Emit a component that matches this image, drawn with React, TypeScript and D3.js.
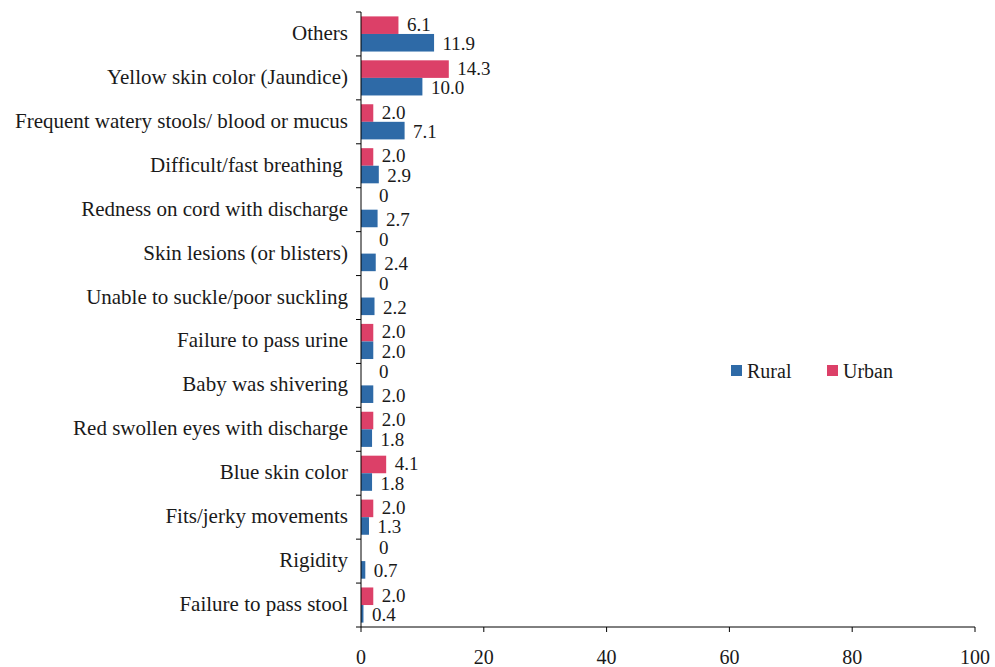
import React from "react";
import * as d3 from "d3";

const categories = [
  "Others",
  "Yellow skin color (Jaundice)",
  "Frequent watery stools/ blood or mucus",
  "Difficult/fast breathing\u00a0",
  "Redness on cord with discharge",
  "Skin lesions (or blisters)",
  "Unable to suckle/poor suckling",
  "Failure to pass urine",
  "Baby was shivering",
  "Red swollen eyes with discharge",
  "Blue skin color",
  "Fits/jerky movements",
  "Rigidity",
  "Failure to pass stool",
];
const urban = [6.1, 14.3, 2.0, 2.0, 0, 0, 0, 2.0, 0, 2.0, 4.1, 2.0, 0, 2.0];
const rural = [11.9, 10.0, 7.1, 2.9, 2.7, 2.4, 2.2, 2.0, 2.0, 1.8, 1.8, 1.3, 0.7, 0.4];
const xTicks = [0, 20, 40, 60, 80, 100];
const seriesNames = ["Rural", "Urban"];

const BLUE = "#2E6AA7";
const PINK = "#DC4068";
const FONT = "'Liberation Serif', 'Times New Roman', serif";

export default function App() {
  const W = 995, H = 667;
  const x0 = 361, x1 = 975, yTop = 12, yBot = 627;
  const x = d3.scaleLinear().domain([0, 100]).range([x0, x1]);
  const y = d3.scaleBand<string>().domain(categories).range([yTop, yBot]).paddingInner(0.2).paddingOuter(0.1);
  const sub = d3.scaleBand<string>().domain(["Urban", "Rural"]).range([0, y.bandwidth()]);
  const bandStep = (yBot - yTop) / categories.length;
  const fmt = (v: number) => (v === 0 ? "0" : v.toFixed(1));

  const bars = (vals: number[], key: string, color: string) =>
    vals.map((v, i) => {
      const by = (y(categories[i]) as number) + (sub(key) as number);
      const h = sub.bandwidth();
      const zero = v === 0;
      return (
        <g key={key + i}>
          {!zero && <rect x={x(0)} y={by} width={x(v) - x(0)} height={h} fill={color} />}
          <text
            x={zero ? x(0) + 18 : x(v) + 8.5}
            y={by + h / 2 + (zero ? -5 : key === "Urban" ? -1 : 1)}
            dominantBaseline="central"
            fontSize={19}
            fontFamily={FONT}
            fill="#1a1a1a"
          >
            {fmt(v)}
          </text>
        </g>
      );
    });

  return (
    <svg width={W} height={H} style={{ position: "absolute", left: 0, top: 0, background: "#fff" }}>
      {bars(urban, "Urban", PINK)}
      {bars(rural, "Rural", BLUE)}
      {/* y axis */}
      <line x1={x0} x2={x0} y1={yTop} y2={yBot} stroke="#000" strokeWidth={1} />
      {d3.range(categories.length + 1).map((i) => (
        <line key={"yt" + i} x1={x0 - 5} x2={x0} y1={yTop + i * bandStep} y2={yTop + i * bandStep} stroke="#000" />
      ))}
      {categories.map((c) => (
        <text
          key={"yl" + c}
          x={348}
          y={(y(c) as number) + y.bandwidth() / 2 - 1}
          textAnchor="end"
          dominantBaseline="central"
          fontSize={21}
          fontFamily={FONT}
          fill="#1a1a1a"
          style={{ whiteSpace: "pre" }}
        >
          {c}
        </text>
      ))}
      {/* x axis */}
      <line x1={x0} x2={x1} y1={yBot} y2={yBot} stroke="#000" />
      {xTicks.map((t) => (
        <g key={"xt" + t}>
          <line x1={x(t)} x2={x(t)} y1={yBot} y2={yBot + 5} stroke="#000" />
          <text x={x(t)} y={657} textAnchor="middle" dominantBaseline="central" fontSize={20} fontFamily={FONT} fill="#1a1a1a">
            {t}
          </text>
        </g>
      ))}
      {/* legend */}
      {seriesNames.map((s, i) => (
        <g key={"lg" + s} transform={`translate(${731 + i * 96},365)`}>
          <rect x={0} y={0} width={11} height={11} fill={s === "Rural" ? BLUE : PINK} />
          <text x={16} y={5.5} dominantBaseline="central" fontSize={20} fontFamily={FONT} fill="#1a1a1a">
            {s}
          </text>
        </g>
      ))}
    </svg>
  );
}
